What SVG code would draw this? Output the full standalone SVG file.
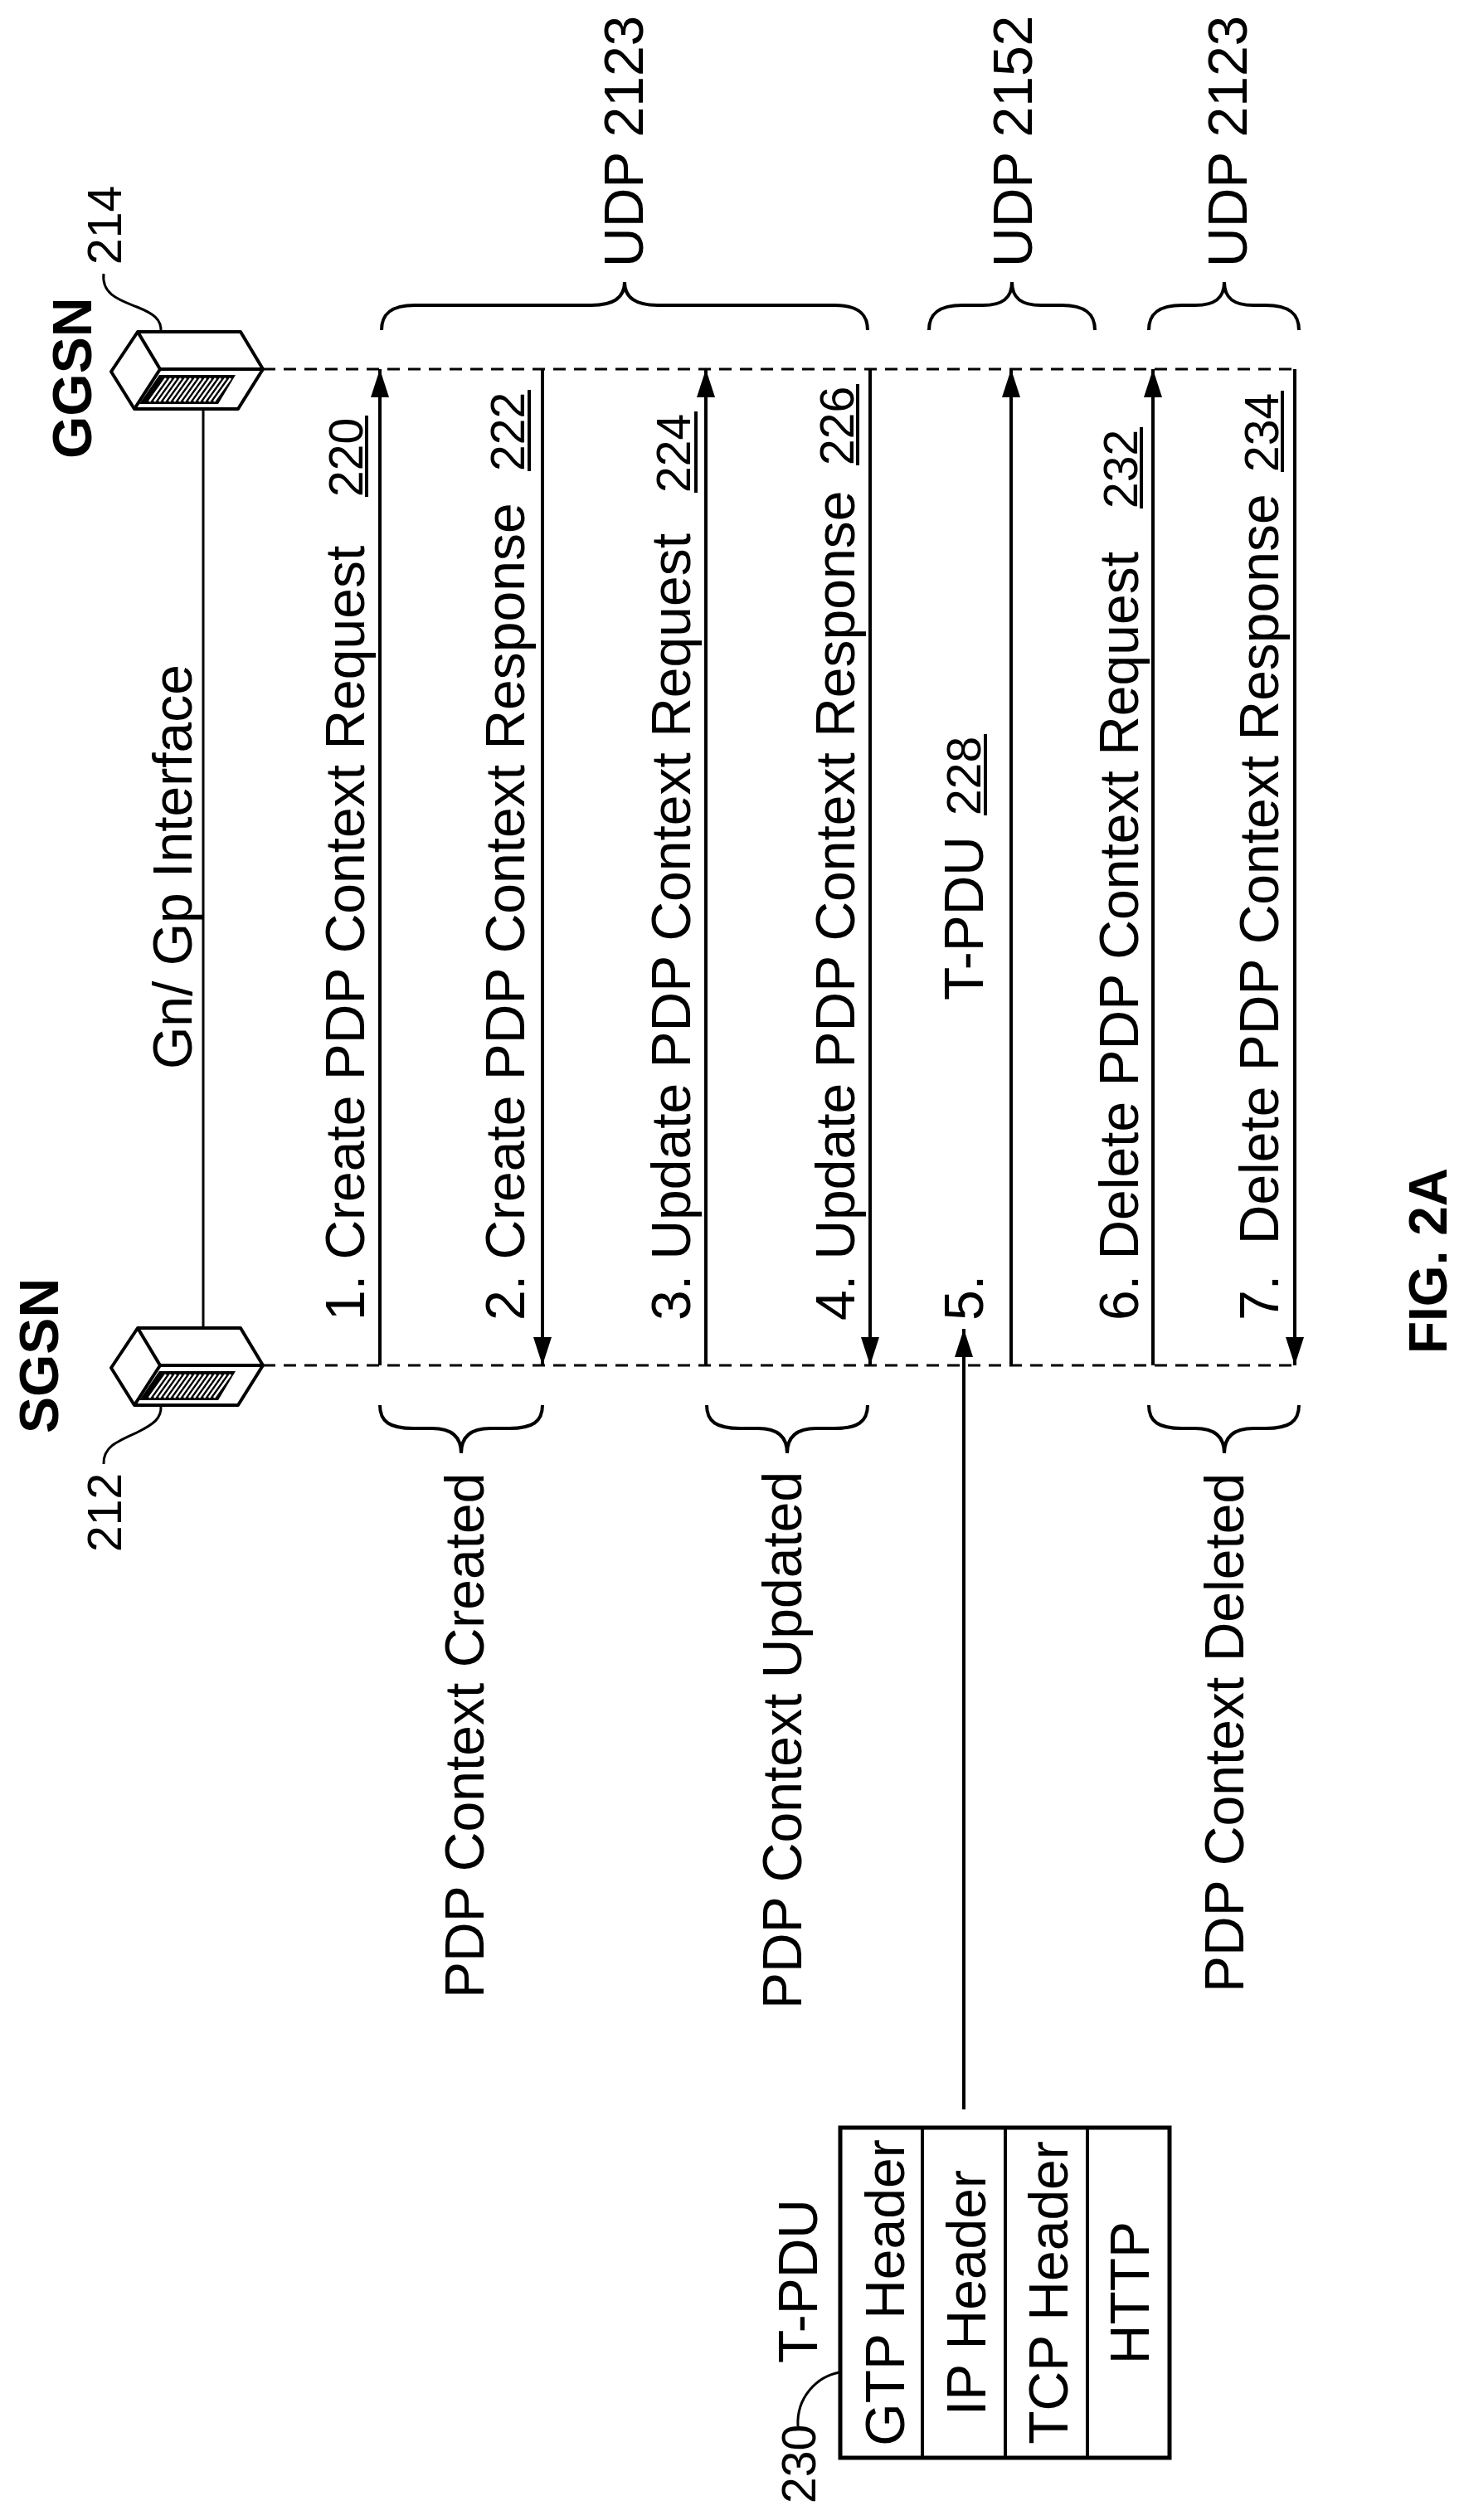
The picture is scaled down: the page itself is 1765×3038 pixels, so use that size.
<svg xmlns="http://www.w3.org/2000/svg" width="1765" height="3038" viewBox="0 0 1765 3038">
<style>
text{font-family:"Liberation Sans",Arial,sans-serif;fill:#000}
.t{font-size:66px}
.n{font-size:57px}
.b{font-size:66px;font-weight:bold}
.ln{stroke:#000;stroke-width:4;fill:none}
.ul{stroke:#000;stroke-width:4}
.dash{stroke:#000;stroke-width:3;stroke-dasharray:15 10;fill:none}
.br{stroke:#000;stroke-width:4;fill:none}
</style>
<defs>
<marker id="ah" viewBox="0 0 34 22" refX="34" refY="11" markerWidth="34" markerHeight="22" markerUnits="userSpaceOnUse" orient="auto">
<path d="M0,0 L34,11 L0,22 z" fill="#000"/>
</marker>
<g id="dev">
<polygon points="134,448 166,400 290,400 317,445 287,493 162,493" fill="#fff" stroke="#000" stroke-width="4" stroke-linejoin="round"/>
<path d="M166,400 L193,445 L317,445 M193,445 L162,493" stroke="#000" stroke-width="4" fill="none"/>
<polygon points="192,452 284,452 263,487 168,487" fill="#000"/>
<path d="M200,456 L180,484 M206,456 L186,484 M212,456 L192,484 M218,456 L198,484 M224,456 L204,484 M230,456 L210,484 M236,456 L216,484 M242,456 L222,484 M248,456 L228,484 M254,456 L234,484 M260,456 L240,484 M266,456 L246,484 M272,456 L252,484 M278,456 L258,484" stroke="#fff" stroke-width="2.5"/>
</g>
</defs>

<g id="ggsn">
<use href="#dev"/>
<text class="b" transform="rotate(-90 110 553)" x="110" y="553">GGSN</text>
<text class="n" transform="rotate(-90 146 319)" x="146" y="319">214</text>
<path class="ln" style="stroke-width:3" d="M125,330 C122,355 145,362 165,370 C185,378 195,385 194,400"/>
</g>

<g id="sgsn">
<use href="#dev" transform="translate(0,1201)"/>
<text class="b" transform="rotate(-90 70 1728)" x="70" y="1728">SGSN</text>
<text class="n" transform="rotate(-90 146 1871)" x="146" y="1871">212</text>
<path class="ln" style="stroke-width:3" d="M194,1695 C195,1710 185,1717 165,1727 C140,1738 124,1745 125,1765"/>
</g>

<g id="interface">
<line x1="245" y1="493" x2="245" y2="1601" stroke="#000" stroke-width="3"/>
<text class="t" transform="rotate(-90 231 1289)" x="231" y="1289">Gn/ Gp Interface</text>
</g>

<g id="connectors">
<line class="dash" x1="317" y1="445" x2="1561" y2="445"/>
<line class="dash" x1="317" y1="1646" x2="1561" y2="1646"/>
<line class="ln" x1="458" y1="1646" x2="458" y2="445" marker-end="url(#ah)"/>
<line class="ln" x1="654" y1="445" x2="654" y2="1646" marker-end="url(#ah)"/>
<line class="ln" x1="851" y1="1646" x2="851" y2="445" marker-end="url(#ah)"/>
<line class="ln" x1="1049" y1="445" x2="1049" y2="1646" marker-end="url(#ah)"/>
<line class="ln" x1="1219" y1="1646" x2="1219" y2="445" marker-end="url(#ah)"/>
<line class="ln" x1="1390" y1="1646" x2="1390" y2="445" marker-end="url(#ah)"/>
<line class="ln" x1="1561" y1="445" x2="1561" y2="1646" marker-end="url(#ah)"/>
<line class="ln" x1="1162" y1="2543" x2="1162" y2="1602" marker-end="url(#ah)"/>
</g>

<g id="msg1">
<text class="t" transform="rotate(-90 439 1592)" x="439" y="1592">1. Create PDP Context Request</text>
<text class="n" transform="rotate(-90 437 599)" x="437" y="599">220</text>
<line class="ul" x1="442" y1="599" x2="442" y2="501"/>
</g>
<g id="msg2">
<text class="t" transform="rotate(-90 632 1592)" x="632" y="1592">2. Create PDP Context Response</text>
<text class="n" transform="rotate(-90 632 568)" x="632" y="568">222</text>
<line class="ul" x1="638" y1="568" x2="638" y2="470"/>
</g>
<g id="msg3">
<text class="t" transform="rotate(-90 832 1592)" x="832" y="1592">3. Update PDP Context Request</text>
<text class="n" transform="rotate(-90 832 594)" x="832" y="594">224</text>
<line class="ul" x1="839" y1="594" x2="839" y2="496"/>
</g>
<g id="msg4">
<text class="t" transform="rotate(-90 1030 1592)" x="1030" y="1592">4. Update PDP Context Response</text>
<text class="n" transform="rotate(-90 1029 561)" x="1029" y="561">226</text>
<line class="ul" x1="1034" y1="561" x2="1034" y2="463"/>
</g>
<g id="msg5">
<text class="t" transform="rotate(-90 1185 1592)" x="1185" y="1592">5.</text>
<text class="t" transform="rotate(-90 1185 1206)" x="1185" y="1206">T-PDU</text>
<text class="n" transform="rotate(-90 1182 983)" x="1182" y="983">228</text>
<line class="ul" x1="1188" y1="983" x2="1188" y2="885"/>
</g>
<g id="msg6">
<text class="t" transform="rotate(-90 1372 1592)" x="1372" y="1592">6. Delete PDP Context Request</text>
<text class="n" transform="rotate(-90 1371 613)" x="1371" y="613">232</text>
<line class="ul" x1="1376" y1="613" x2="1376" y2="515"/>
</g>
<g id="msg7">
<text class="t" transform="rotate(-90 1541 1592)" x="1541" y="1592" xml:space="preserve">7.  Delete PDP Context Response</text>
<text class="n" transform="rotate(-90 1541 569)" x="1541" y="569">234</text>
<line class="ul" x1="1546" y1="569" x2="1546" y2="471"/>
</g>

<g id="udp-braces">
<path class="br" d="M460,398 C460,378 472,368 500,368 L713,368 C738,368 753,360 753,340 C753,360 768,368 793,368 L1006,368 C1034,368 1046,378 1046,398"/>
<path class="br" d="M1120,398 C1120,378 1132,368 1160,368 L1185,368 C1208,368 1220,360 1220,340 C1220,360 1232,368 1255,368 L1280,368 C1308,368 1320,378 1320,398"/>
<path class="br" d="M1385,398 C1385,378 1397,368 1425,368 L1441,368 C1464,368 1476,360 1476,340 C1476,360 1488,368 1511,368 L1526,368 C1554,368 1566,378 1566,398"/>
<text class="t" transform="rotate(-90 775 322)" x="775" y="322">UDP 2123</text>
<text class="t" transform="rotate(-90 1244 322)" x="1244" y="322">UDP 2152</text>
<text class="t" transform="rotate(-90 1503 322)" x="1503" y="322">UDP 2123</text>
</g>

<g id="state-braces">
<path class="br" d="M458,1694 C458,1714 470,1722 498,1722 L521,1722 C544,1722 556,1732 556,1752 C556,1732 568,1722 591,1722 L614,1722 C642,1722 654,1714 654,1694"/>
<path class="br" d="M852,1694 C852,1714 864,1722 892,1722 L914,1722 C937,1722 949,1732 949,1752 C949,1732 961,1722 984,1722 L1006,1722 C1034,1722 1046,1714 1046,1694"/>
<path class="br" d="M1385,1694 C1385,1714 1397,1722 1425,1722 L1441,1722 C1464,1722 1476,1732 1476,1752 C1476,1732 1488,1722 1511,1722 L1526,1722 C1554,1722 1566,1714 1566,1694"/>
<text class="t" transform="rotate(-90 583 2409)" x="583" y="2409">PDP Context Created</text>
<text class="t" transform="rotate(-90 966 2422)" x="966" y="2422">PDP Context Updated</text>
<text class="t" transform="rotate(-90 1499 2402)" x="1499" y="2402">PDP Context Deleted</text>
</g>

<g id="tpdu">
<rect x="1013" y="2565" width="397" height="398" fill="none" stroke="#000" stroke-width="5"/>
<path d="M1112,2565 V2963 M1212,2565 V2963 M1311,2565 V2963" stroke="#000" stroke-width="4"/>
<g text-anchor="middle">
<text class="t" transform="rotate(-90 1090 2764)" x="1090" y="2764">GTP Header</text>
<text class="t" transform="rotate(-90 1188 2764)" x="1188" y="2764">IP Header</text>
<text class="t" transform="rotate(-90 1287 2764)" x="1287" y="2764">TCP Header</text>
<text class="t" transform="rotate(-90 1385 2764)" x="1385" y="2764">HTTP</text>
</g>
<text class="t" transform="rotate(-90 985 2849)" x="985" y="2849">T-PDU</text>
<text class="n" transform="rotate(-90 983 3018)" x="983" y="3018">230</text>
<path class="ln" style="stroke-width:3" d="M962,2925 C960,2890 985,2865 1012,2860"/>
</g>

<text class="b" style="font-size:64px" transform="rotate(-90 1744 1632)" x="1744" y="1632">FIG. 2A</text>
</svg>
